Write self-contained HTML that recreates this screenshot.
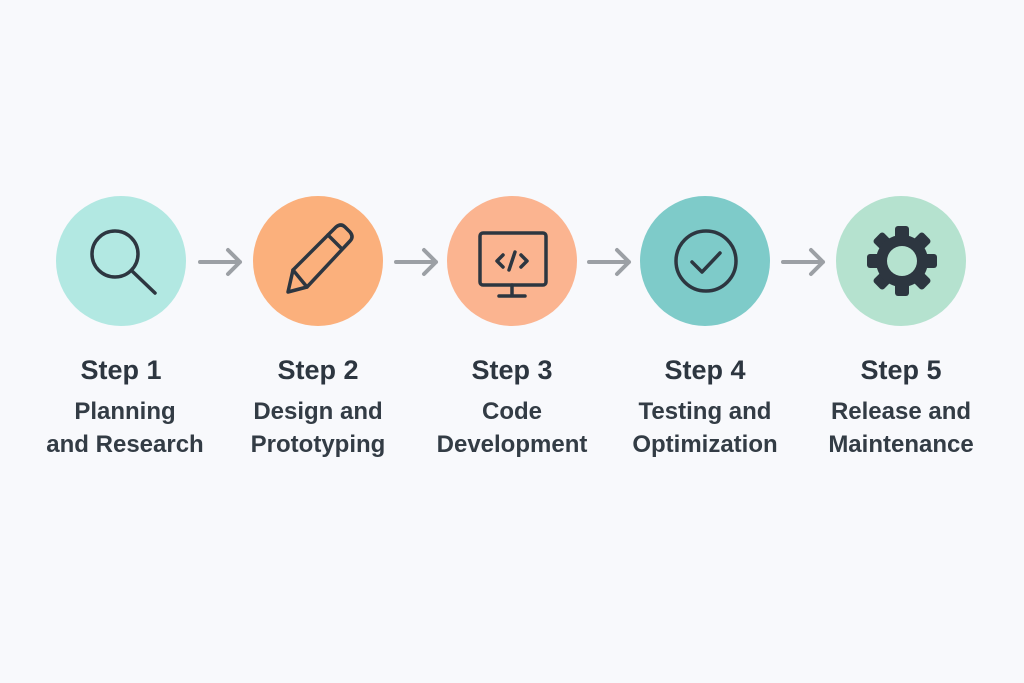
<!DOCTYPE html>
<html><head><meta charset="utf-8"><style>
html,body{margin:0;padding:0;background:#f8f9fc;width:1024px;height:683px;overflow:hidden;font-family:"Liberation Sans",sans-serif;}
.t{position:absolute;width:240px;text-align:center;color:#2d3640;}
.s{font-weight:bold;font-size:27px;top:355px;}
.l{font-size:24px;top:395px;line-height:33px;font-weight:bold;color:#333c45;}
</style></head><body>
<svg width="1024" height="683" style="position:absolute;left:0;top:0">
<g>
<circle cx="121" cy="261" r="65" fill="#b2e8e2"/>
<circle cx="318" cy="261" r="65" fill="#fbb07c"/>
<circle cx="512" cy="261" r="65" fill="#fbb490"/>
<circle cx="705" cy="261" r="65" fill="#7ecbc9"/>
<circle cx="901" cy="261" r="65" fill="#b5e2cf"/>
</g>
<g stroke="#9ca0a5" stroke-width="4" fill="none" stroke-linecap="round" stroke-linejoin="round">
<path d="M200 262H240M228 250L240 262L228 274"/>
<path d="M396 262H436M424 250L436 262L424 274"/>
<path d="M589 262H629M617 250L629 262L617 274"/>
<path d="M783 262H823M811 250L823 262L811 274"/>
</g>
<g stroke="#2d3640" stroke-width="3.5" fill="none" stroke-linecap="round" stroke-linejoin="round">
<circle cx="115" cy="254" r="23"/>
<path d="M132 271L155 293"/>
<path d="M288 292L293 270L336 227Q341 223 345 227L350 232Q354 237 350 241L307 287Z"/>
<path d="M293 270L307 287M328 235L342 249"/>
<rect x="480" y="233" width="66" height="52" rx="3"/>
<path d="M512 285V296M499 296H525"/>
<path d="M503 255L497 261L503 267M521 255L527 261L521 267M509 270L515 252"/>
<circle cx="706" cy="261" r="30"/>
<path d="M692 262L702 272L720 253"/>
</g>
<g transform="translate(902,261)" fill="#2d3640">
<g id="tooth"><rect x="-7" y="-35" width="14" height="15" rx="3"/></g>
<use href="#tooth" transform="rotate(45)"/><use href="#tooth" transform="rotate(90)"/><use href="#tooth" transform="rotate(135)"/>
<use href="#tooth" transform="rotate(180)"/><use href="#tooth" transform="rotate(225)"/><use href="#tooth" transform="rotate(270)"/><use href="#tooth" transform="rotate(315)"/>
<circle r="26"/>
<circle r="15" fill="#b5e2cf"/>
</g>
</svg>
<div class="t s" style="left:1px">Step 1</div>
<div class="t s" style="left:198px">Step 2</div>
<div class="t s" style="left:392px">Step 3</div>
<div class="t s" style="left:585px">Step 4</div>
<div class="t s" style="left:781px">Step 5</div>
<div class="t l" style="left:5px">Planning<br>and Research</div>
<div class="t l" style="left:198px">Design and<br>Prototyping</div>
<div class="t l" style="left:392px">Code<br>Development</div>
<div class="t l" style="left:585px">Testing and<br>Optimization</div>
<div class="t l" style="left:781px">Release and<br>Maintenance</div>
</body></html>
